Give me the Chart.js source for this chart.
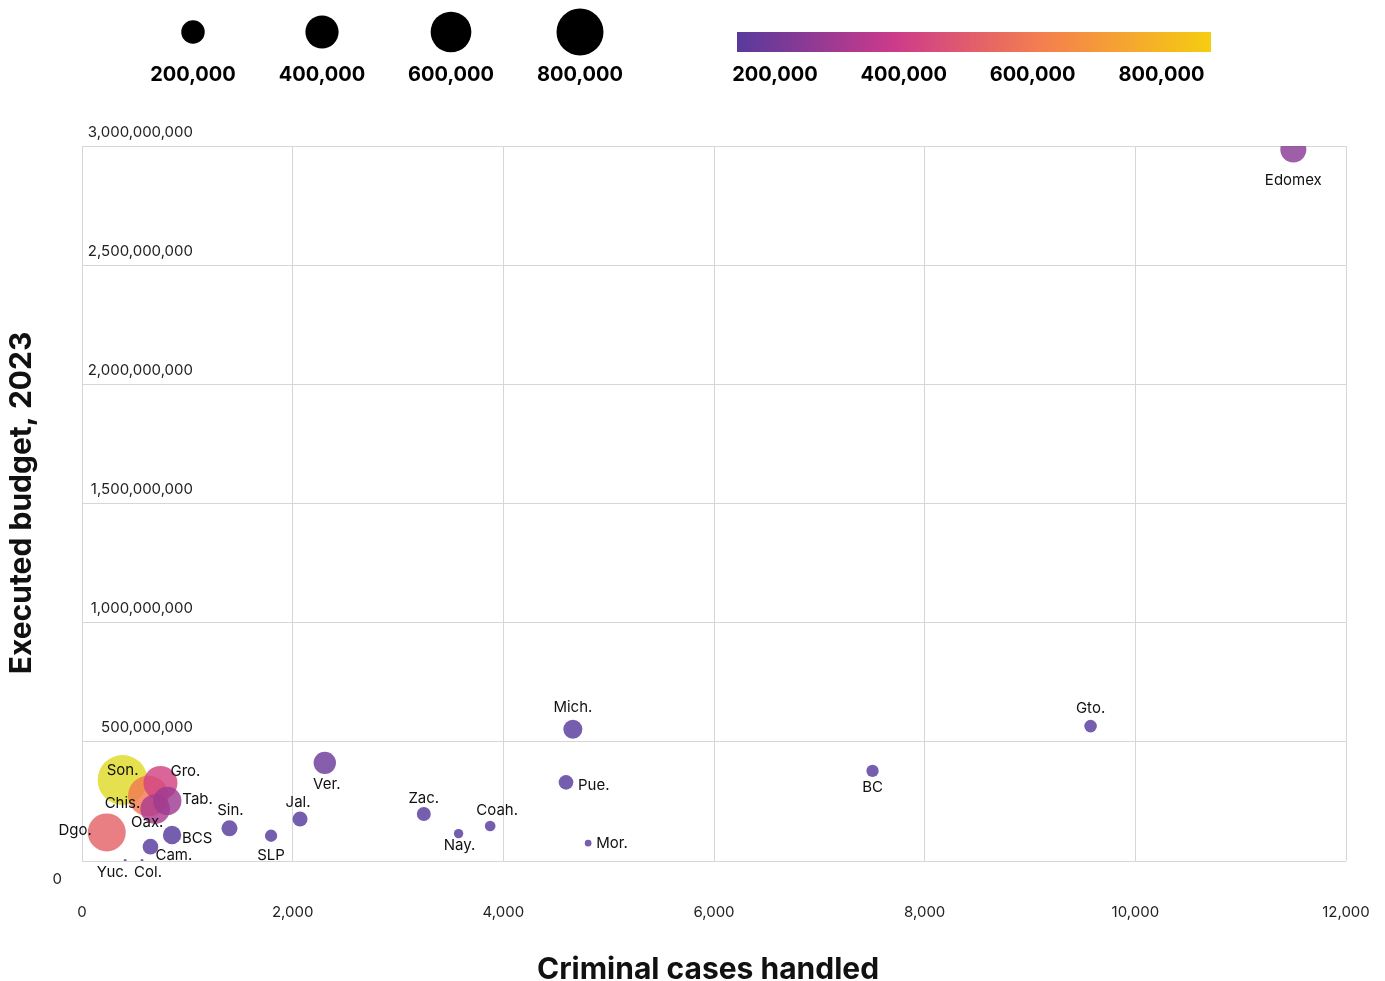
<!DOCTYPE html>
<html>
<head>
<meta charset="utf-8">
<script src="https://cdn.jsdelivr.net/npm/chart.js@4.4.1/dist/chart.umd.min.js"></script>
<style>
html,body{margin:0;padding:0;background:#fff;}
#wrap{width:1385px;height:981px;position:relative;}
canvas{display:block;}
</style>
</head>
<body>
<div id="wrap"><canvas id="c" width="1385" height="981" style="width:1385px;height:981px"></canvas></div>
<script>
// ---------------- DATA ----------------
const states = ['Son.','Chis.','Dgo.','Gro.','Oax.','Tab.','Edomex','Ver.','Mich.','BCS','Sin.','Cam.','Jal.','Pue.','Zac.','Gto.','BC','SLP','Coah.','Nay.','Mor.','Yuc.','Col.'];
const casesHandled = [385,630,235,745,695,810,11500,2305,4660,855,1400,650,2070,4595,3245,9575,7505,1795,3875,3575,4805,410,570];
const executedBudget = [340e6,273e6,120e6,327e6,218e6,252e6,2985e6,412e6,553e6,109e6,137e6,60e6,176e6,330e6,197e6,566e6,378e6,106e6,147e6,115e6,75e6,2e6,2e6];
const bubbleValue = [900000,600000,523000,419000,320000,290000,245000,181000,131000,122000,93000,89000,82000,78000,71000,58000,55000,55000,41000,32000,16000,3000,3000];
const xTickValues = [0,2000,4000,6000,8000,10000,12000];
const yTickValues = [0,500000000,1000000000,1500000000,2000000000,2500000000,3000000000];
const legendValues = [200000,400000,600000,800000];
const xTitle = 'Criminal cases handled';
const yTitle = 'Executed budget, 2023';

// ---------------- STYLE ----------------
const FONT = 'Inter, "Open Sans", sans-serif';
const colorDomain = [141000, 877000];
const colorStops = [[0,'#583a9c'],[0.33,'#cc3a8b'],[0.64,'#f47e50'],[1,'#f6cd10']];
const overflowStop = [1.035,'#dcdc2a'];   // colour continues past the legend's end
const pointAlpha = 0.82;
const sizeK = 23.5 / Math.sqrt(800000);
// label placement relative to point centre: [align, dx, dy]
const labelPlace = {
  'Edomex':['center',0,31],'Gto.':['center',0,-18],'Mich.':['center',0,-22],'BC':['center',0,17],
  'Pue.':['left',12,3],'Mor.':['left',8,0],'Ver.':['center',2,22],'Zac.':['center',0,-16],
  'Coah.':['center',7,-15],'Nay.':['center',1,12],'Jal.':['center',-2,-17],'Sin.':['center',1,-18],
  'SLP':['center',0,20],'BCS':['left',10,3],'Cam.':['left',5,9],'Dgo.':['right',-15,-2],
  'Son.':['center',0,-9],'Gro.':['left',10,-12],'Chis.':['right',-8,8],'Tab.':['left',15,-1],
  'Oax.':['center',-8,13],'Yuc.':['right',3,12],'Col.':['center',6,12]
};

function hexToRgb(h){h=h.replace('#','');return [parseInt(h.slice(0,2),16),parseInt(h.slice(2,4),16),parseInt(h.slice(4,6),16)];}
function mix(c0,c1,f){const a=hexToRgb(c0),b=hexToRgb(c1);return a.map((v,k)=>Math.round(v+(b[k]-v)*f));}
function colorAt(t){
  t=Math.max(0,t);
  if(t>1){return mix(colorStops[colorStops.length-1][1], overflowStop[1], Math.min(1,(t-1)/(overflowStop[0]-1)));}
  for(let i=0;i<colorStops.length-1;i++){
    const [t0,c0]=colorStops[i],[t1,c1]=colorStops[i+1];
    if(t<=t1) return mix(c0,c1,(t-t0)/(t1-t0));
  }
  return hexToRgb(colorStops[colorStops.length-1][1]);
}
function colorFor(v,alpha){const c=colorAt((v-colorDomain[0])/(colorDomain[1]-colorDomain[0]));return `rgba(${c[0]},${c[1]},${c[2]},${alpha})`;}
function radiusFor(v){return sizeK*Math.sqrt(v);}
const fmt = v => v.toLocaleString('en-US');

const overlay = {
  id:'overlay',
  afterDatasetsDraw(chart){
    const ctx=chart.ctx; const meta=chart.getDatasetMeta(0);
    ctx.save();
    ctx.font='15px '+FONT; ctx.fillStyle='#111'; ctx.textBaseline='middle';
    meta.data.forEach((el,i)=>{
      const p=labelPlace[states[i]]||['center',0,-15];
      ctx.textAlign=p[0];
      ctx.fillText(states[i], el.x+p[1], el.y+p[2]);
    });
    ctx.restore();
  },
  afterDraw(chart){
    const ctx=chart.ctx, ys=chart.scales.y, area=chart.chartArea;
    ctx.save();
    // y tick labels
    ctx.font='15px '+FONT; ctx.fillStyle='#222'; ctx.textBaseline='middle';
    yTickValues.forEach(v=>{
      const py=ys.getPixelForValue(v);
      ctx.textAlign='right';
      if(v===0){ctx.fillText(fmt(v), area.left-20, py+18);}
      else {ctx.fillText(fmt(v), area.left+111, py-14);}
    });
    // axis titles
    ctx.fillStyle='#111'; ctx.font='bold 30px '+FONT; ctx.textAlign='center'; ctx.textBaseline='middle';
    ctx.fillText(xTitle, 708, 970);
    ctx.save(); ctx.translate(22,503); ctx.rotate(-Math.PI/2); ctx.fillText(yTitle,0,0); ctx.restore();
    // size legend
    ctx.font='bold 20px '+FONT; ctx.fillStyle='#000';
    legendValues.forEach((v,i)=>{
      const cx=193+i*129;
      ctx.beginPath(); ctx.arc(cx,32,radiusFor(v),0,Math.PI*2); ctx.fill();
      ctx.fillText(fmt(v), cx, 75);
    });
    // color legend
    const gx0=737, gx1=1211;
    const g=ctx.createLinearGradient(gx0,0,gx1,0);
    colorStops.forEach(([t,c])=>g.addColorStop(t,c));
    ctx.fillStyle=g; ctx.fillRect(gx0,32,gx1-gx0,20);
    ctx.fillStyle='#000';
    legendValues.forEach(v=>{
      const x=gx0+(v-colorDomain[0])/(colorDomain[1]-colorDomain[0])*(gx1-gx0);
      ctx.fillText(fmt(v), x, 75);
    });
    ctx.restore();
  }
};

new Chart(document.getElementById('c'),{
  type:'bubble',
  data:{datasets:[{
    data: states.map((s,i)=>({x:casesHandled[i], y:executedBudget[i], r:radiusFor(bubbleValue[i])})),
    backgroundColor: bubbleValue.map(v=>colorFor(v,pointAlpha)),
    borderWidth:0, hoverBorderWidth:0, hoverRadius:0
  }]},
  options:{
    responsive:false, animation:false, events:[], devicePixelRatio:1,
    layout:{padding:{left:82,top:146,right:39,bottom:0}},
    plugins:{legend:{display:false},tooltip:{enabled:false}},
    scales:{
      x:{type:'linear',min:0,max:12000,
        afterBuildTicks(s){s.ticks=xTickValues.map(v=>({value:v}));},
        ticks:{callback:v=>fmt(v),padding:42,color:'#222',font:{family:FONT,size:15},maxRotation:0,autoSkip:false},
        grid:{color:'#d6d6d6',drawTicks:false,lineWidth:1},
        border:{display:false},
        afterFit(s){s.height=120; s.paddingLeft=0; s.paddingRight=0;}
      },
      y:{type:'linear',min:0,max:3000000000,
        afterBuildTicks(s){s.ticks=yTickValues.map(v=>({value:v}));},
        ticks:{display:false},
        grid:{color:'#d6d6d6',drawTicks:false,lineWidth:1},
        border:{display:false},
        afterFit(s){s.width=0; s.paddingTop=0; s.paddingBottom=0;}
      }
    }
  },
  plugins:[overlay]
});
</script>
</body>
</html>
